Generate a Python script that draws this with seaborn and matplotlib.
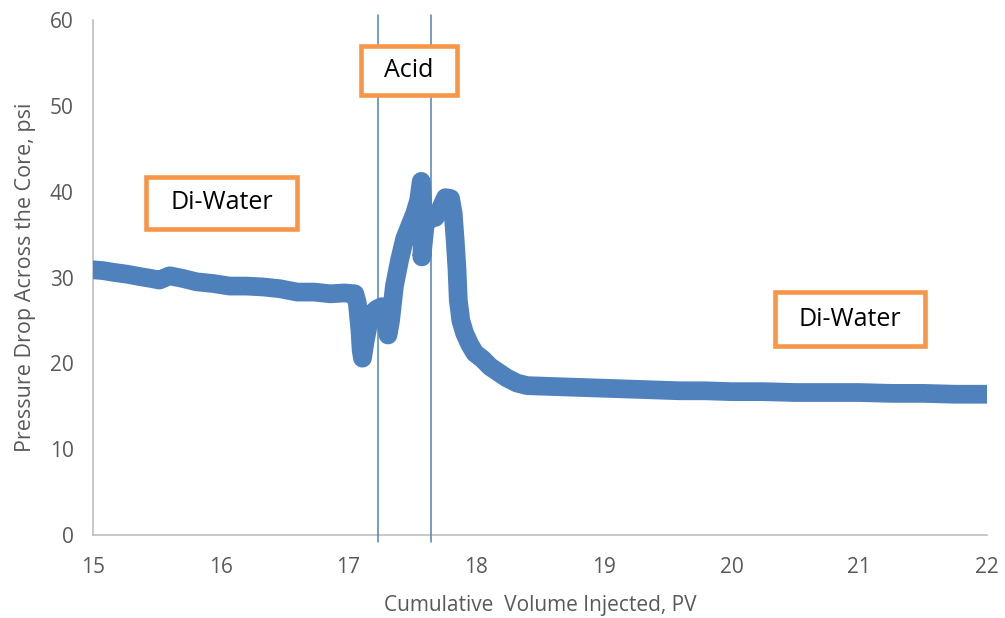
import matplotlib
matplotlib.use("Agg")
import matplotlib.pyplot as plt
import seaborn as sns
import pandas as pd
from matplotlib.patches import Rectangle

# ---- data ----
pv = [15.00, 15.08, 15.16, 15.26, 15.37, 15.45, 15.52, 15.60, 15.70, 15.81,
      15.94, 16.07, 16.20, 16.33, 16.46, 16.60, 16.73, 16.86, 16.97, 17.05,
      17.07, 17.075, 17.09, 17.10, 17.11, 17.13, 17.16, 17.19, 17.22, 17.26,
      17.29, 17.31, 17.33, 17.36, 17.40, 17.44, 17.48, 17.52, 17.55, 17.57,
      17.58, 17.58, 17.575, 17.60, 17.64, 17.68, 17.72, 17.76, 17.80, 17.82,
      17.835, 17.85, 17.86, 17.88, 17.91, 17.95, 17.99, 18.05, 18.11, 18.17,
      18.24, 18.32, 18.40, 18.60, 18.80, 19.00, 19.20, 19.40, 19.60, 19.80,
      20.00, 20.25, 20.50, 20.75, 21.00, 21.25, 21.50, 21.75, 22.00]
dp = [30.9, 30.8, 30.6, 30.4, 30.1, 29.9, 29.7, 30.2, 29.9, 29.5,
      29.3, 29.0, 29.0, 28.9, 28.7, 28.3, 28.3, 28.1, 28.2, 28.1,
      27.0, 26.2, 23.9, 21.5, 20.6, 22.5, 24.8, 25.9, 26.3, 26.6,
      25.5, 23.3, 25.0, 29.0, 32.0, 34.5, 36.0, 37.5, 39.0, 41.2,
      39.5, 34.5, 32.4, 36.0, 37.2, 37.0, 38.0, 39.3, 39.2, 37.5,
      34.5, 31.0, 27.4, 25.0, 23.5, 22.2, 21.2, 20.5, 19.6, 19.0,
      18.3, 17.7, 17.4, 17.3, 17.2, 17.1, 17.0, 16.9, 16.8, 16.8,
      16.7, 16.7, 16.6, 16.6, 16.6, 16.5, 16.5, 16.4, 16.4]

acid_bounds = [17.23, 17.65]

# label, x0, x1, y0, y1 (data units)
annotations = [("Di-Water", 15.415, 16.598, 35.65, 41.71),
               ("Acid", 17.099, 17.850, 51.26, 56.97),
               ("Di-Water", 20.34, 21.515, 22.02, 28.31)]

x_ticks = [15, 16, 17, 18, 19, 20, 21, 22]
y_ticks = [0, 10, 20, 30, 40, 50, 60]

# ---- styling ----
sns.set_theme(style="white")
plt.rcParams['font.family'] = ['Open Sans', 'DejaVu Sans']

BLUE = "#4F81BD"
ORANGE = "#F79646"
GREY_TXT = "#595959"
GREY_AX = "#BFBFBF"

fig = plt.figure(figsize=(10.05, 6.18), dpi=100)
ax = fig.add_axes([93 / 1005, 1 - 535 / 618, (987 - 93) / 1005, (535 - 20) / 618])

df = pd.DataFrame({"pv": pv, "dp": dp})
sns.lineplot(data=df, x="pv", y="dp", sort=False, estimator=None, ax=ax,
             color=BLUE, linewidth=13.5, solid_capstyle="round",
             solid_joinstyle="round", zorder=3)

for xb in acid_bounds:
    ax.axvline(xb, ymin=-0.014, ymax=1.01, color=BLUE, linewidth=1.1,
               clip_on=False, zorder=4)

for label, x0, x1, y0, y1 in annotations:
    ax.add_patch(Rectangle((x0, y0), x1 - x0, y1 - y0, facecolor="white",
                           edgecolor=ORANGE, linewidth=3.3, zorder=5,
                           clip_on=False))
    ax.text((x0 + x1) / 2, (y0 + y1) / 2, label, ha="center", va="center",
            fontsize=18, color="black", zorder=6)

ax.set_xlim(15, 22)
ax.set_ylim(0, 60)
ax.set_xticks(x_ticks)
ax.set_yticks(y_ticks)
ax.tick_params(axis="both", length=0, labelsize=15, colors=GREY_TXT)
ax.tick_params(axis="x", pad=16)
ax.tick_params(axis="y", pad=14)
ax.set_xlabel("Cumulative  Volume Injected, PV", fontsize=15, color=GREY_TXT,
              labelpad=12)
ax.set_ylabel("Pressure Drop Across the Core, psi", fontsize=15.5,
              color=GREY_TXT, labelpad=10)

for s in ["top", "right"]:
    ax.spines[s].set_visible(False)
for s in ["left", "bottom"]:
    ax.spines[s].set_color(GREY_AX)
    ax.spines[s].set_linewidth(1.2)
ax.grid(False)

fig.savefig("out.png", dpi=100)
